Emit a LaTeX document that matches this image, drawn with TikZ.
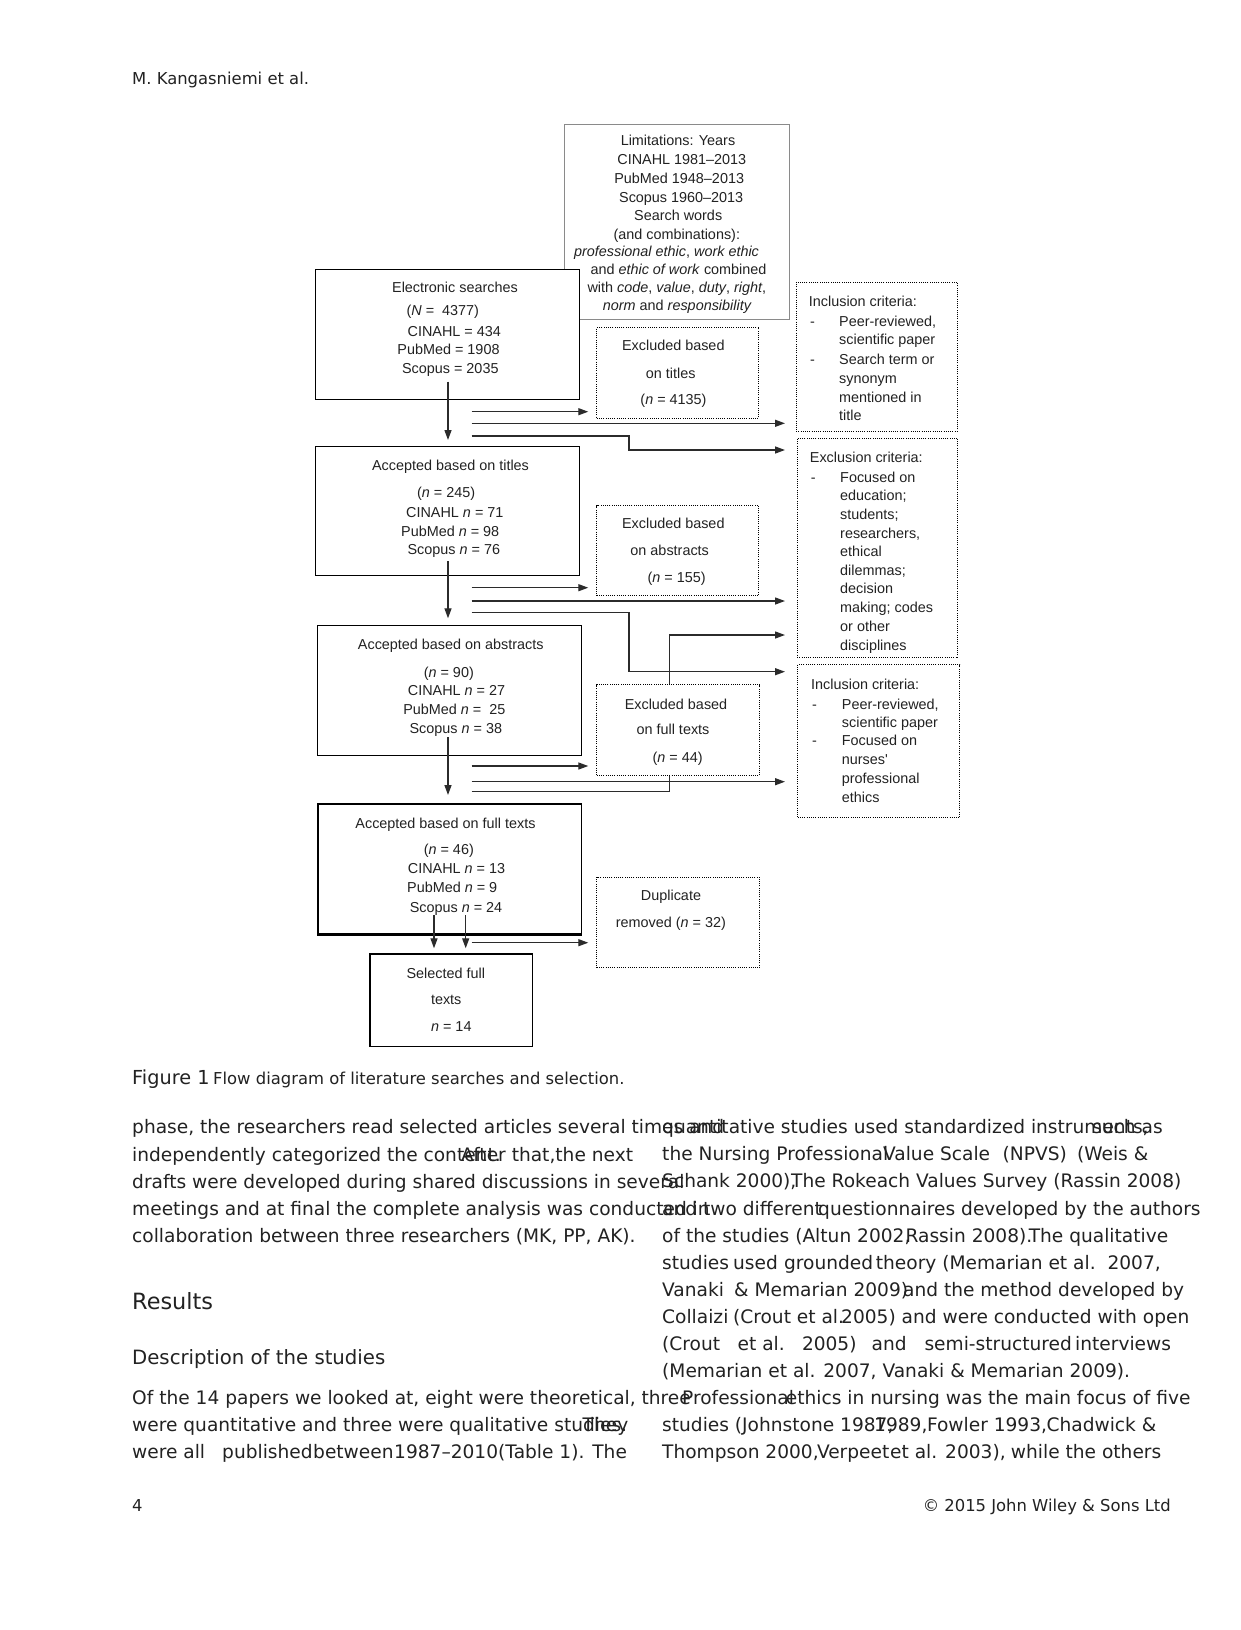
\documentclass[tikz,border=0pt]{standalone}
\usepackage{fontspec}
\setmainfont{DejaVu Sans}
\newfontfamily\arialf{Liberation Sans}
\newfontfamily\dvs{DejaVu Sans}
\usetikzlibrary{arrows.meta}
\definecolor{txtc}{HTML}{222222}
\definecolor{arrc}{HTML}{2B2B2B}
\definecolor{limc}{HTML}{8A8A8A}
\tikzset{
  dt/.style={font=\arialf\fontsize{14.4}{17}\selectfont, text=txtc, inner sep=0pt, anchor=base},
  dtl/.style={dt, anchor=base west},
  bt/.style={font=\dvs\fontsize{18.6}{22}\selectfont, text=txtc, inner sep=0pt, anchor=base west},
  sbox/.style={draw=black, line width=1.1pt, fill=white, inner sep=0pt, anchor=north west},
  gbox/.style={draw=limc, line width=1pt, fill=white, inner sep=0pt, anchor=north west},
  dbox/.style={draw=black, line width=1pt, dash pattern=on 1pt off 1.2pt, inner sep=0pt, anchor=north west},
  arr/.style={draw=arrc, line width=1.3pt, -{Triangle[length=10pt,width=7pt]}},
  lnk/.style={draw=arrc, line width=1.3pt},
}
\newcommand\dtxt[4]{\node[dt] (#1) at (#2,{#3+4.8}) {#4};}
\newcommand\ltxt[4]{\node[dtl] (#1) at (#2,{#3+4.8}) {#4};}
\newcommand\btxt[4]{\node[bt] (#1) at (#2,{#3+6.2}) {#4};}
\begin{document}
\begin{tikzpicture}[x=1pt,y=-1pt]
\fill[white] (0,0) rectangle (1241,1630);
\useasboundingbox (0,0) rectangle (1241,1630);

% header
\node[font=\dvs\fontsize{16.4}{19}\selectfont, text=txtc, inner sep=0pt, anchor=base west] (hdr) at (132,84.6) {M. Kangasniemi et al.};

% boxes
\node[gbox, minimum width=224.4pt, minimum height=195pt] (lim) at (564.3,124.3) {};
\node[sbox, minimum width=263.4pt, minimum height=130pt] (elec) at (315.3,268.7) {};
\node[dbox, minimum width=162pt, minimum height=90.7pt] (exT) at (596.3,327) {};
\node[dbox, minimum width=161pt, minimum height=149pt] (inc1) at (795.7,281.7) {};
\node[sbox, minimum width=263.4pt, minimum height=129.6pt] (accT) at (315.3,445.7) {};
\node[dbox, minimum width=162pt, minimum height=90pt] (exA) at (596.3,505) {};
\node[dbox, minimum width=160.6pt, minimum height=219.3pt] (exc) at (796.7,437.7) {};
\node[sbox, minimum width=263.4pt, minimum height=130pt] (accA) at (317.3,625.3) {};
\node[dbox, minimum width=162.7pt, minimum height=91pt] (exF) at (596.3,684) {};
\node[dbox, minimum width=162pt, minimum height=153.3pt] (inc2) at (797.3,664) {};
\node[sbox, line width=1.4pt, minimum width=263.4pt, minimum height=130pt] (accF) at (317.3,803.3) {};
\draw[black, line width=2.2pt] (accF.south west) -- (accF.south east);
\node[dbox, minimum width=162.7pt, minimum height=90.6pt] (dup) at (596.3,876.7) {};
\node[sbox, line width=1.3pt, minimum width=162.4pt, minimum height=92.4pt] (sel) at (369.3,953.3) {};

% limitations text
\dtxt{lim1}{678}{141}{Limitations: Years}
\dtxt{lim2}{681.8}{159.3}{CINAHL 1981–2013}
\dtxt{lim3}{679.2}{178.3}{PubMed 1948–2013}
\dtxt{lim4}{681.2}{197.3}{Scopus 1960–2013}
\dtxt{lim5}{678.2}{216}{Search words}
\dtxt{lim6}{676.8}{235}{(and combinations):}
\dtxt{lim7}{666.5}{252}{\textit{professional ethic}, \textit{work ethic}}
\dtxt{lim8}{678.5}{270}{and \textit{ethic of work} combined}
\dtxt{lim9}{676.8}{288}{with \textit{code}, \textit{value}, \textit{duty}, \textit{right},}
\dtxt{lim10}{677.3}{306}{\textit{norm} and \textit{responsibility}}

% electronic searches
\dtxt{el1}{455}{288}{Electronic searches}
\dtxt{el2}{442.8}{311}{(\textit{N} =\ \ 4377)}
\dtxt{el3}{454.3}{331.3}{CINAHL = 434}
\dtxt{el4}{448.5}{350}{PubMed = 1908}
\dtxt{el5}{450.3}{368.3}{Scopus = 2035}

% excluded titles
\dtxt{et1}{673.3}{346}{Excluded based}
\dtxt{et2}{670.7}{373.3}{on titles}
\dtxt{et3}{673.5}{399.3}{(\textit{n} = 4135)}

% accepted titles
\dtxt{at1}{450.5}{466}{Accepted based on titles}
\dtxt{at2}{446.2}{492.7}{(\textit{n} = 245)}
\dtxt{at3}{454.8}{512.3}{CINAHL \textit{n} = 71}
\dtxt{at4}{450.2}{531.3}{PubMed \textit{n} = 98}
\dtxt{at5}{453.8}{549.3}{Scopus \textit{n} = 76}

% excluded abstracts
\dtxt{ea1}{673.3}{524}{Excluded based}
\dtxt{ea2}{669.7}{550.7}{on abstracts}
\dtxt{ea3}{676.7}{577.7}{(\textit{n} = 155)}

% accepted abstracts
\dtxt{aa1}{450.8}{645}{Accepted based on abstracts}
\dtxt{aa2}{448.8}{672.7}{(\textit{n} = 90)}
\dtxt{aa3}{456.5}{690.7}{CINAHL \textit{n} = 27}
\dtxt{aa4}{454.3}{710}{PubMed \textit{n} =\ \ 25}
\dtxt{aa5}{455.8}{729}{Scopus \textit{n} = 38}

% excluded full texts
\dtxt{ef1}{676}{704.3}{Excluded based}
\dtxt{ef2}{673}{730}{on full texts}
\dtxt{ef3}{677.7}{757.3}{(\textit{n} = 44)}

% accepted full texts
\dtxt{af1}{445.5}{823.3}{Accepted based on full texts}
\dtxt{af2}{448.8}{849.3}{(\textit{n} = 46)}
\dtxt{af3}{456.5}{869}{CINAHL \textit{n} = 13}
\dtxt{af4}{452.2}{888}{PubMed \textit{n} = 9}
\dtxt{af5}{456}{907.3}{Scopus \textit{n} = 24}

% duplicates
\dtxt{du1}{671}{896}{Duplicate}
\dtxt{du2}{670.8}{922.7}{removed (\textit{n} = 32)}

% selected
\dtxt{se1}{445.8}{974}{Selected full}
\dtxt{se2}{446.2}{1000}{texts}
\dtxt{se3}{451.3}{1026.7}{\textit{n} = 14}

% inclusion 1
\ltxt{ia0}{808.7}{301.7}{Inclusion criteria:}
\ltxt{ia1d}{810}{321.7}{-}
\ltxt{ia1}{839}{321.7}{Peer-reviewed,}
\ltxt{ia2}{839}{340}{scientific paper}
\ltxt{ia3d}{810}{360}{-}
\ltxt{ia3}{839}{360}{Search term or}
\ltxt{ia4}{839}{378.3}{synonym}
\ltxt{ia5}{839}{397.3}{mentioned in}
\ltxt{ia6}{839}{415.7}{title}

% exclusion
\ltxt{xa0}{809.7}{457.3}{Exclusion criteria:}
\ltxt{xa1d}{810.7}{477.3}{-}
\ltxt{xa1}{840}{477.3}{Focused on}
\ltxt{xa2}{840}{496}{education;}
\ltxt{xa3}{840}{514.3}{students;}
\ltxt{xa4}{840}{533.3}{researchers,}
\ltxt{xa5}{840}{552}{ethical}
\ltxt{xa6}{840}{570.7}{dilemmas;}
\ltxt{xa7}{840}{589}{decision}
\ltxt{xa8}{840}{607.7}{making; codes}
\ltxt{xa9}{840}{626.7}{or other}
\ltxt{xa10}{840}{645.7}{disciplines}

% inclusion 2
\ltxt{ib0}{811}{684.3}{Inclusion criteria:}
\ltxt{ib1d}{812}{705}{-}
\ltxt{ib1}{841.7}{705}{Peer-reviewed,}
\ltxt{ib2}{841.7}{722.3}{scientific paper}
\ltxt{ib3d}{812}{741}{-}
\ltxt{ib3}{841.7}{741}{Focused on}
\ltxt{ib4}{841.7}{760}{nurses\textquotesingle}
\ltxt{ib5}{841.7}{779}{professional}
\ltxt{ib6}{841.7}{797.7}{ethics}

% connectors: vertical flow
\coordinate (v1) at (448,381.7);
\coordinate (v2) at (448,561);
\coordinate (v3) at (448,737.3);
\coordinate (v4) at (434,915);
\coordinate (v5) at (465.7,915);
\draw[arr, shorten >=5.7pt] (v1) -- (v1 |- accT.north);
\draw[arr, shorten >=7pt] (v2) -- (v2 |- accA.north);
\draw[arr, shorten >=8.3pt] (v3) -- (v3 |- accF.north);
\draw[arr, shorten >=5pt] (v4) -- (v4 |- sel.north);
\draw[arr, shorten >=5pt] (v5) -- (v5 |- sel.north);

% connectors: horizontal
\coordinate (h1) at (471.7,411.7);
\coordinate (h2) at (471.7,423.3);
\coordinate (h3) at (471.7,436);
\coordinate (h3b) at (629,450);
\coordinate (h4) at (471.7,587.7);
\coordinate (h5) at (471.7,601);
\coordinate (h6) at (471.7,612.7);
\coordinate (h6b) at (629,671.7);
\coordinate (h7) at (669.3,635);
\coordinate (h8) at (471.7,766);
\coordinate (h9) at (471.7,781.7);
\coordinate (h10) at (471.7,791.7);
\coordinate (h11) at (471.7,942.7);

\draw[arr, shorten >=8pt] (h1) -- (h1 -| exT.west);
\draw[arr, shorten >=10.7pt] (h2) -- (h2 -| inc1.west);
\draw[arr, shorten >=11.7pt] (h3) -| (h3b) -- (h3b -| exc.west);
\draw[arr, shorten >=8pt] (h4) -- (h4 -| exA.west);
\draw[arr, shorten >=11.7pt] (h5) -- (h5 -| exc.west);
\draw[arr, shorten >=12.3pt] (h6) -| (h6b) -- (h6b -| inc2.west);
\draw[arr, shorten >=11.7pt] (h7 |- exF.north) -- (h7) -- (h7 -| exc.west);
\draw[arr, shorten >=8pt] (h8) -- (h8 -| exF.west);
\draw[arr, shorten >=12.3pt] (h9) -- (h9 -| inc2.west);
\draw[lnk] (h10) -| (h7 |- exF.south);
\draw[arr, shorten >=8pt] (h11) -- (h11 -| dup.west);

% caption
\node[font=\dvs\fontsize{19.3}{22}\selectfont, text=txtc, inner sep=0pt, anchor=base west] (fig) at (132,1084.8) {Figure 1};
\node[font=\dvs\fontsize{16.4}{19}\selectfont, text=txtc, inner sep=0pt, anchor=base west] (cap) at (213,1084.8) {Flow diagram of literature searches and selection.};

% left column
\btxt{l1}{132}{1127.7}{phase, the researchers read selected articles several times and}
\btxt{l2}{132}{1154.8}{independently categorized the content.}
\btxt{l2b}{461}{1154.8}{After that,the next}
\btxt{l3}{132}{1181.8}{drafts were developed during shared discussions in several}
\btxt{l4}{132}{1208.8}{meetings and at final the complete analysis was conducted in}
\btxt{l5}{132}{1235.8}{collaboration between three researchers (MK, PP, AK).}
\node[font=\dvs\fontsize{22.4}{26}\selectfont, text=txtc, inner sep=0pt, anchor=base west] (res) at (132,1309.8) {Results};
\node[font=\dvs\fontsize{19.7}{23}\selectfont, text=txtc, inner sep=0pt, anchor=base west] (desc) at (132,1364) {Description of the studies};
\btxt{o1}{132}{1398}{Of the 14 papers we looked at, eight were theoretical, three}
\btxt{o2}{132}{1425}{were quantitative and three were qualitative studies.}
\btxt{o2b}{582.5}{1425}{They}
\btxt{o3a}{132}{1452}{were all}
\btxt{o3b}{222}{1452}{published}
\btxt{o3c}{313}{1452}{between}
\btxt{o3d}{394}{1452}{1987–2010}
\btxt{o3e}{498}{1452}{(Table 1). The}

% right column
\btxt{r1}{662}{1127.7}{quantitative studies used standardized instruments,}
\btxt{r1b}{1092}{1127.7}{such as}
\btxt{r2}{662}{1154.7}{the Nursing Professional}
\btxt{r2b}{882.9}{1154.7}{Value Scale}
\btxt{r2c}{1002.5}{1154.7}{(NPVS)}
\btxt{r2d}{1076.8}{1154.7}{(Weis \&}
\btxt{r3}{662}{1181.7}{Schank 2000),}
\btxt{r3b}{791}{1181.7}{The Rokeach Values Survey (Rassin 2008)}
\btxt{r4}{662}{1208.8}{and two different}
\btxt{r4b}{818}{1208.8}{questionnaires developed by the authors}
\btxt{r5}{662}{1235.8}{of the studies (Altun 2002,}
\btxt{r5b}{905.4}{1235.8}{Rassin 2008).}
\btxt{r5c}{1028.6}{1235.8}{The qualitative}
\btxt{r6}{662}{1262.8}{studies}
\btxt{r6b}{732.9}{1262.8}{used}
\btxt{r6c}{783.9}{1262.8}{grounded}
\btxt{r6d}{875.7}{1262.8}{theory (Memarian et al.\ \ 2007,}
\btxt{r7}{662}{1289.8}{Vanaki}
\btxt{r7b}{734}{1289.8}{\& Memarian 2009)}
\btxt{r7c}{902.9}{1289.8}{and the method developed by}
\btxt{r8}{662}{1316.8}{Collaizi}
\btxt{r8b}{732.9}{1316.8}{(Crout et al.}
\btxt{r8c}{841}{1316.8}{2005) and were conducted with open}
\btxt{r9}{662}{1343.9}{(Crout}
\btxt{r9b}{737.5}{1343.9}{et al.}
\btxt{r9c}{801.8}{1343.9}{2005)}
\btxt{r9d}{871.4}{1343.9}{and}
\btxt{r9e}{924.3}{1343.9}{semi-structured}
\btxt{r9f}{1075}{1343.9}{interviews}
\btxt{r10}{662}{1370.9}{(Memarian et al. 2007, Vanaki \& Memarian 2009).}
\btxt{r11}{682}{1397.9}{Professional}
\btxt{r11b}{785.7}{1397.9}{ethics in nursing was the main focus of five}
\btxt{r12}{662}{1424.9}{studies (Johnstone 1987,}
\btxt{r12b}{874}{1424.9}{1989,}
\btxt{r12c}{926.8}{1424.9}{Fowler 1993,}
\btxt{r12d}{1046.4}{1424.9}{Chadwick \&}
\btxt{r13}{662}{1451.9}{Thompson 2000,}
\btxt{r13b}{816.8}{1451.9}{Verpeet}
\btxt{r13c}{890}{1451.9}{et al. 2003),}
\btxt{r13d}{1010.7}{1451.9}{while the others}

% footer
\node[font=\dvs\fontsize{16.4}{19}\selectfont, text=txtc, inner sep=0pt, anchor=base west] (pg) at (132,1511.7) {4};
\node[font=\dvs\fontsize{16.4}{19}\selectfont, text=txtc, inner sep=0pt, anchor=base east] (copy) at (1171,1511.7) {© 2015 John Wiley \& Sons Ltd};
\end{tikzpicture}
\end{document}
